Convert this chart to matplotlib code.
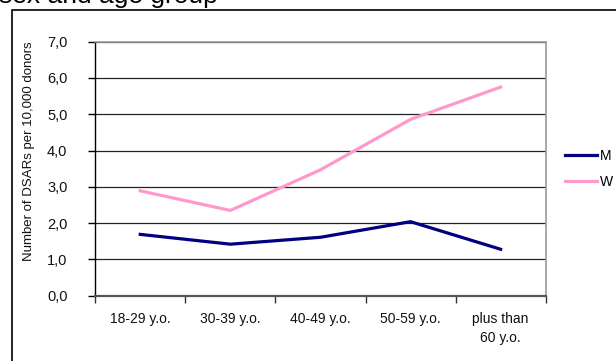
import numpy as np
import matplotlib
matplotlib.use('Agg')
import matplotlib.pyplot as plt
from matplotlib.patches import Rectangle

plt.rcParams['font.family'] = ['Liberation Sans', 'DejaVu Sans']

# data
age_groups = ['18-29 y.o.', '30-39 y.o.', '40-49 y.o.', '50-59 y.o.', 'plus than\n60 y.o.']
men = [1.69, 1.42, 1.61, 2.04, 1.28]
women = [2.89, 2.35, 3.47, 4.86, 5.75]
y_ticks = np.arange(0, 7.5, 1.0)

W, H = 616, 361
fig = plt.figure(figsize=(W / 100, H / 100), dpi=100)

# axes placed in pixel units of the original
left, right, top, bottom = 95.2, 545.7, 41.7, 295.7
ax = fig.add_axes([left / W, 1 - bottom / H, (right - left) / W, (bottom - top) / H])

x = np.arange(len(age_groups))
ax.plot(x, men, color='#000080', lw=2.3, label='M', solid_joinstyle='miter')
ax.plot(x, women, color='#FF99CC', lw=2.3, label='W', solid_joinstyle='miter')

ax.set_xlim(-0.5, len(age_groups) - 0.5)
ax.set_ylim(0, 7)
ax.set_yticks(y_ticks)
ax.set_yticklabels([('%.1f' % v).replace('.', ',') for v in y_ticks])
ax.yaxis.grid(True, color='#222222', lw=0.9)
ax.set_axisbelow(True)

# category labels in the middle of each bin, ticks at bin edges
ax.set_xticks(np.arange(-0.5, len(age_groups)), minor=False)
ax.set_xticklabels([])
ax.set_xticks(x, minor=True)
ax.set_xticklabels(age_groups, minor=True, fontsize=10, color='#111111', linespacing=1.4)
ax.tick_params(axis='x', which='major', direction='out', length=5, width=1, color='#333333')
ax.tick_params(axis='x', which='minor', length=0, pad=12)
ax.tick_params(axis='y', direction='out', length=5, width=1, pad=15, labelsize=10.5, labelcolor='#111111')

for s in ['top', 'right']:
    ax.spines[s].set_color('#999999')
    ax.spines[s].set_linewidth(1.2)
ax.spines['left'].set_color('black')
ax.spines['left'].set_linewidth(1)
ax.spines['bottom'].set_color('#555555')
ax.spines['bottom'].set_linewidth(1.6)

ax.set_ylabel('Number of DSARs per 10,000 donors', fontsize=9.5, color='#111111')
ax.yaxis.set_label_coords(-0.133, 0.568)

leg = ax.legend(loc='center left', bbox_to_anchor=(1.03, 0.5), borderaxespad=0, frameon=False,
                fontsize=10, handlelength=2.3, handletextpad=0.25, labelspacing=0.85)

# outer chart border and cut-off title
fig.add_artist(Rectangle((11.5 / W, -0.05), 1.1, 1.05 - 10 / H, transform=fig.transFigure,
                         fill=False, ec='black', lw=1.2))
fig.text(-1 / W, 1 - 3.5 / H, 'sex and age group', fontsize=19, va='baseline', ha='left')

fig.savefig('out.png', dpi=100)
